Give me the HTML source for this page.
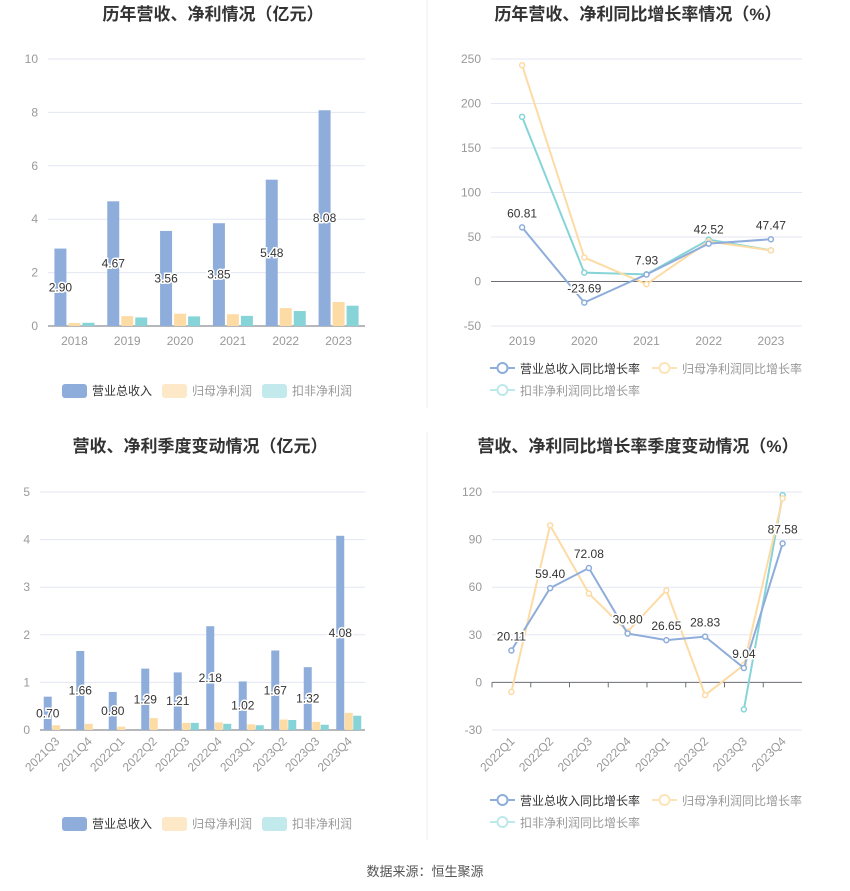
<!DOCTYPE html>
<html><head><meta charset="utf-8">
<style>
body{margin:0;background:#fff;font-family:"Liberation Sans","Noto Sans CJK SC",sans-serif;}
svg{display:block}
</style></head>
<body>
<svg id="c" width="850" height="891" xmlns="http://www.w3.org/2000/svg" font-family="Liberation Sans, Noto Sans CJK SC, sans-serif">
<line x1="427" y1="0" x2="427" y2="408" stroke="#eee"/>
<line x1="427" y1="432" x2="427" y2="840" stroke="#eee"/>
<text x="425" y="876" text-anchor="middle" font-size="13" fill="#555">数据来源：恒生聚源</text>
</svg>
<script>
const yearCats=['2018','2019','2020','2021','2022','2023'];
const yearRev=[2.90,4.67,3.56,3.85,5.48,8.08];
const yearNet=[0.11,0.37,0.46,0.44,0.67,0.90];
const yearDed=[0.12,0.32,0.36,0.38,0.56,0.76];
const yearTicks=[0,2,4,6,8,10];
const growCats=['2019','2020','2021','2022','2023'];
const growRev=[60.81,-23.69,7.93,42.52,47.47];
const growNet=[243,27,-3,45,35];
const growDed=[185,10,8,47,35];
const growTicks=[-50,0,50,100,150,200,250];
const qCats=['2021Q3','2021Q4','2022Q1','2022Q2','2022Q3','2022Q4','2023Q1','2023Q2','2023Q3','2023Q4'];
const qRev=[0.70,1.66,0.80,1.29,1.21,2.18,1.02,1.67,1.32,4.08];
const qNet=[0.10,0.13,0.07,0.25,0.15,0.16,0.12,0.22,0.17,0.36];
const qDed=[0,0,0,0,0.15,0.13,0.10,0.21,0.11,0.30];
const qTicks=[0,1,2,3,4,5];
const qgCats=['2022Q1','2022Q2','2022Q3','2022Q4','2023Q1','2023Q2','2023Q3','2023Q4'];
const qgRev=[20.11,59.40,72.08,30.80,26.65,28.83,9.04,87.58];
const qgNet=[-6,99,56,32,58,-8,11,116];
const qgDed=[null,null,null,null,null,null,-17,118];
const qgTicks=[-30,0,30,60,90,120];

const svg=document.getElementById('c');const NS='http://www.w3.org/2000/svg';
function mk(tag,attrs,parent){const e=document.createElementNS(NS,tag);for(const k in attrs)e.setAttribute(k,attrs[k]);(parent||svg).appendChild(e);return e;}
const C1='#8eaddb',C2='#fddba5',C3='#86d4d8';
const L1='#8eaddb',L2='#fddba5',L3='#86d4d8';

function axes(o){
  const g=mk('g',{});
  
  
  const t=mk('text',{x:o.tx,y:20,'text-anchor':'middle','font-size':17,'font-weight':'bold',fill:'#333'},g);
  t.textContent=o.title;
  
  
  const ys=v=>o.y0+(v-o.min)/(o.max-o.min)*(o.y1-o.y0);
  o.ticks.forEach(v=>{
    const ln=mk('line',{x1:o.x0,x2:o.x1,y1:ys(v),y2:ys(v),stroke:'#e3e7f3'},g);
    
    
    const tl=mk('text',{x:o.x0-10,y:ys(v)+4,'text-anchor':'end','font-size':12,fill:'#999'},g);
    tl.textContent=v;
    
    
  });
  const z=ys(0);
  const ax=mk('line',{x1:o.x0,x2:o.x1,y1:z,y2:z,stroke:'#6e7079'},g);
  
  
  const bw=(o.x1-o.x0)/o.cats.length;
  const xs=i=>o.x0+bw*(i+0.5);
  o.cats.forEach((c,i)=>{
    if(o.tickMarks){const tm=mk('line',{x1:o.x0+bw*i,x2:o.x0+bw*i,y1:z,y2:z+5,stroke:'#6e7079'},g);
      }
    let lbl;
    if(o.rot){lbl=mk('text',{x:xs(i)+4,y:o.labelY,'text-anchor':'end','font-size':12,fill:'#999',transform:`rotate(-45 ${xs(i)+4} ${o.labelY})`},g);}
    else{lbl=mk('text',{x:xs(i),y:o.labelY,'text-anchor':'middle','font-size':12,fill:'#999'},g);}
    lbl.textContent=c;
    
    
  });
  return {g,ys,xs,bw};
}
function label(g,x,y,txt){
  const t=mk('text',{x:x,y:y,'text-anchor':'middle','font-size':12,fill:'#333',stroke:'#fff','stroke-width':3,'paint-order':'stroke'},g);
  t.textContent=txt;
  
  
}
function bars(o,A,series,w,offs){
  series.forEach((s,si)=>{
    s.vals.forEach((v,i)=>{
      const y=A.ys(v),z=A.ys(0);
      const r=mk('rect',{x:A.xs(i)+offs[si]-w/2,y:Math.min(y,z),width:w,height:Math.abs(z-y),fill:s.c},A.g);
      
      
    });
  });
  series[0].vals.forEach((v,i)=>label(A.g,A.xs(i)+offs[0],(A.ys(v)+A.ys(0))/2+4,v.toFixed(2)));
}
function lines(o,A,series,labelVals){
  series.forEach(s=>{
    let d='';let pen=false;
    s.vals.forEach((v,i)=>{if(v===null){pen=false;return;}d+=(pen?'L':'M')+A.xs(i)+' '+A.ys(v)+' ';pen=true;});
    const p=mk('path',{d:d,fill:'none',stroke:s.c,'stroke-width':2},A.g);
    
    
    s.vals.forEach((v,i)=>{if(v===null)return;
      const c=mk('circle',{cx:A.xs(i),cy:A.ys(v),r:2.5,fill:'#fff',stroke:s.c,'stroke-width':1.5},A.g);
      
      
    });
  });
  labelVals.forEach((v,i)=>label(A.g,A.xs(i),A.ys(v)-10,v.toFixed(2)));
}
function barLegend(y,x0){
  const items=[['营业总收入',C1],['归母净利润','#fde8c7'],['扣非净利润','#c2eaec']];
  const xs=[x0,x0+100,x0+200];
  items.forEach((it,i)=>{
    const r=mk('rect',{x:xs[i],y:y-6,width:25,height:14,rx:3,fill:it[1]});
    
    
    const t=mk('text',{x:xs[i]+30,y:y+5,'font-size':12,fill:i==0?'#333':'#999'});
    t.textContent=it[0];
    
    
  });
}
function lineLegend(y,x0){
  const items=[['营业总收入同比增长率',L1,x0,y,'#333'],['归母净利润同比增长率','#fde3b8',x0+162,y,'#999'],['扣非净利润同比增长率','#bde9eb',x0,y+22,'#999']];
  items.forEach(it=>{
    const l=mk('line',{x1:it[2],x2:it[2]+25,y1:it[3],y2:it[3],stroke:it[1],'stroke-width':2});
    
    
    const c=mk('circle',{cx:it[2]+12.5,cy:it[3],r:5,fill:'#fff',stroke:it[1],'stroke-width':2});
    
    
    const t=mk('text',{x:it[2]+30,y:it[3]+5,'font-size':12,fill:it[4]});
    t.textContent=it[0];
    
    
  });
}
// chart 1
let o1={name:'annual-revenue-chart',title:'历年营收、净利情况（亿元）',tx:213,x0:48,x1:365,y0:326,y1:59,min:0,max:10,ticks:yearTicks,cats:yearCats,labelY:345};
let A1=axes(o1);
bars(o1,A1,[{n:'revenue',vals:yearRev,c:C1},{n:'net',vals:yearNet,c:C2},{n:'deducted',vals:yearDed,c:C3}],12,[-14,0,14]);
barLegend(390,62);
// chart 2
let o2={name:'annual-growth-chart',title:'历年营收、净利同比增长率情况（%）',tx:638,x0:491,x1:802,y0:326,y1:59,min:-50,max:250,ticks:growTicks,cats:growCats,labelY:345};
let A2=axes(o2);
lines(o2,A2,[{n:'deducted-growth',vals:growDed,c:L3},{n:'net-growth',vals:growNet,c:L2},{n:'revenue-growth',vals:growRev,c:L1}],growRev);
lineLegend(368,490);
// chart 3
let o3={name:'quarterly-revenue-chart',title:'营收、净利季度变动情况（亿元）',tx:200,x0:40,x1:365,y0:730,y1:492,min:0,max:5,ticks:qTicks,cats:qCats,labelY:742,rot:true};
let A3=axes(o3);
A3.g.querySelector('text').setAttribute('y',452);
bars(o3,A3,[{n:'revenue',vals:qRev,c:C1},{n:'net',vals:qNet,c:C2},{n:'deducted',vals:qDed,c:C3}],8,[-8.5,0,8.5]);
barLegend(823,62);
// chart 4
let o4={name:'quarterly-growth-chart',title:'营收、净利同比增长率季度变动情况（%）',tx:638,x0:492,x1:802,y0:730,y1:492,min:-30,max:120,ticks:qgTicks,cats:qgCats,labelY:742,rot:true,tickMarks:true};
let A4=axes(o4);
A4.g.querySelector('text').setAttribute('y',452);
lines(o4,A4,[{n:'deducted-growth',vals:qgDed,c:L3},{n:'net-growth',vals:qgNet,c:L2},{n:'revenue-growth',vals:qgRev,c:L1}],qgRev);
lineLegend(800,490);
</script>
</body></html>
